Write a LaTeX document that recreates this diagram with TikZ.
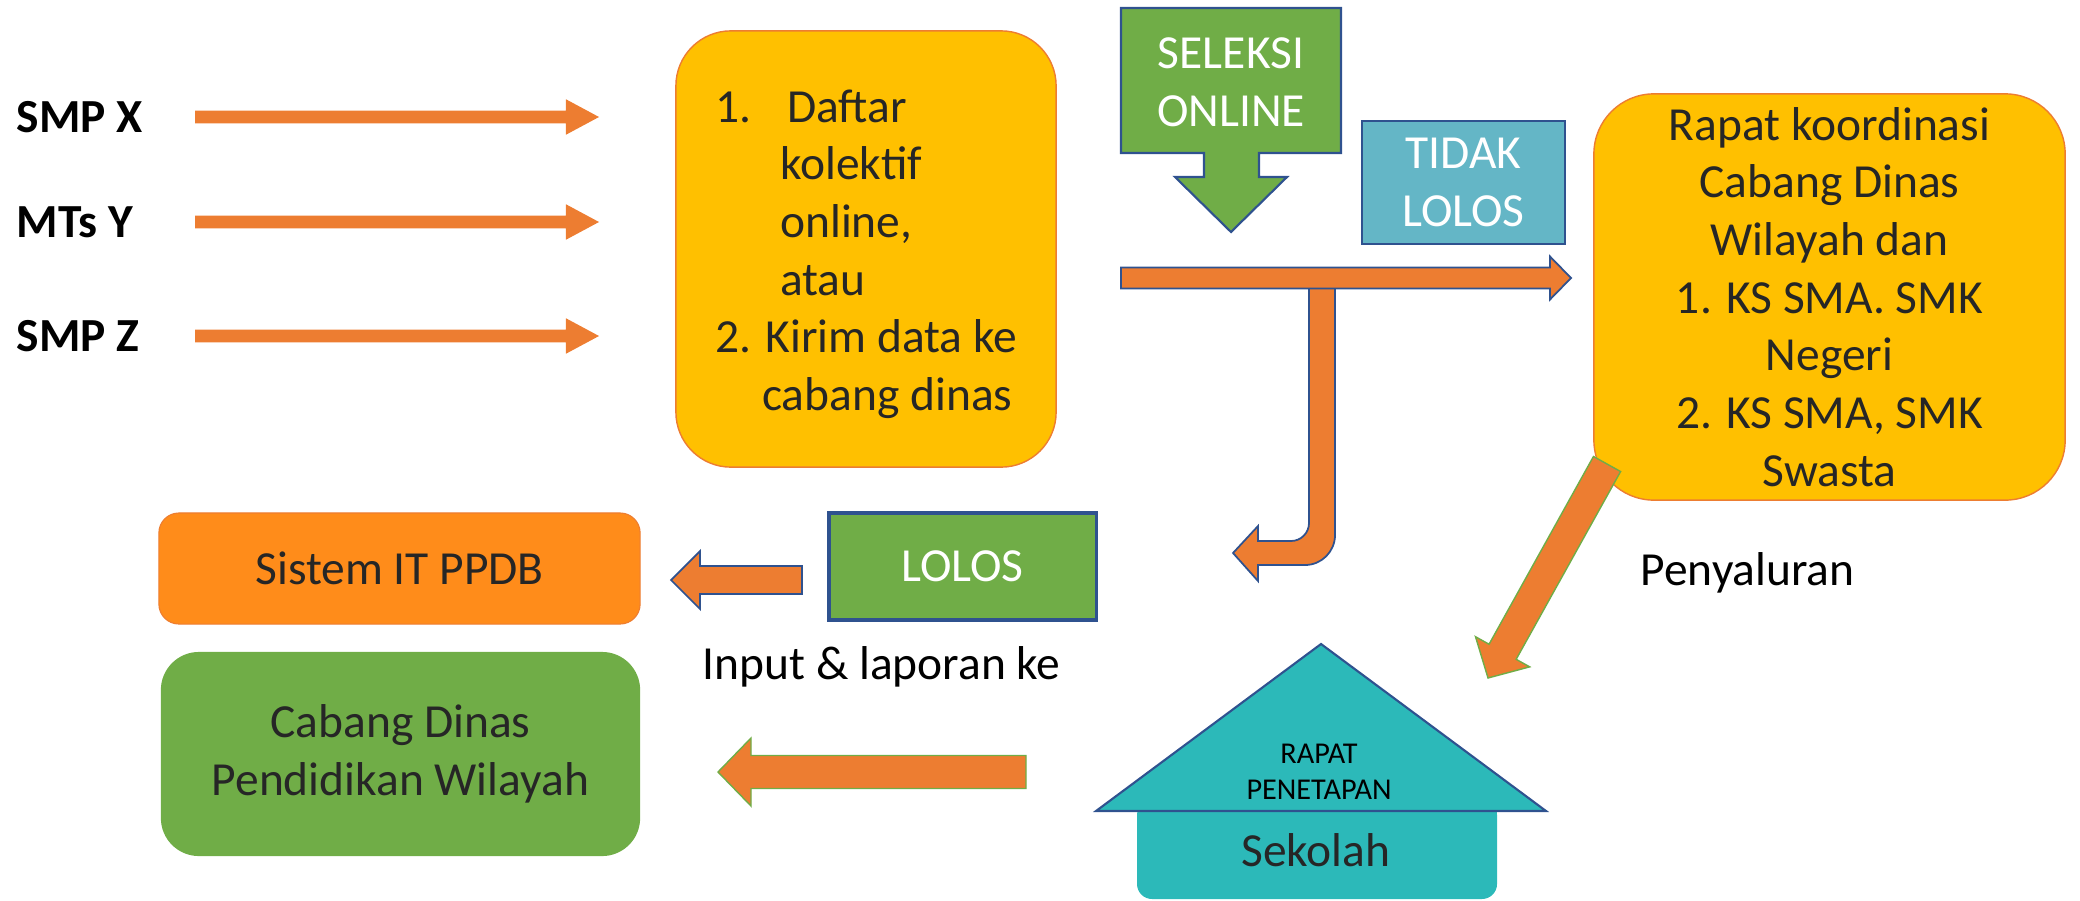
\documentclass[tikz,border=0pt]{standalone}
\usepackage{fontspec}
\setmainfont{Carlito}
\usetikzlibrary{calc}

\definecolor{oranye}{HTML}{ED7D31}
\definecolor{emas}{HTML}{FFC000}
\definecolor{hijau}{HTML}{70AD47}
\definecolor{biru}{HTML}{2F528F}
\definecolor{toska}{HTML}{64B6C6}
\definecolor{tosca}{HTML}{2CB9B9}
\definecolor{jingga}{HTML}{FF8C1A}
\definecolor{abu}{HTML}{262626}

\newcommand{\teks}{\fontsize{13.5}{16.4}\selectfont}
\newcommand{\panahblok}[6]{%
  \coordinate (pb-h) at ($(#3)!#6!(#2)$);
  \draw[#1] ($(#2)!#4!90:(#3)$) -- ($(pb-h)!#4!90:(#3)$) -- ($(pb-h)!#5!90:(#3)$)
    -- (#3) -- ($(pb-h)!#5!-90:(#3)$) -- ($(pb-h)!#4!-90:(#3)$) -- ($(#2)!#4!-90:(#3)$) -- cycle;}

\begin{document}
\begin{tikzpicture}[x=0.01cm,y=-0.01cm,
    kotak/.style={align=center,inner sep=0pt,font=\teks,text=abu},
    tulisan/.style={anchor=west,inner sep=0pt,font=\teks},
    panah/.style={fill=oranye,draw=biru,line width=0.5pt},
    panahpolos/.style={fill=oranye,draw=none},
    panahhijau/.style={fill=oranye,draw=hijau,line width=0.4pt}]
\useasboundingbox (0,0) rectangle (2080,900);

\node[tulisan,font=\teks\bfseries] (smpx) at (16,117) {SMP X};
\node[tulisan,font=\teks\bfseries] (mtsy) at (16,222) {MTs Y};
\node[tulisan,font=\teks\bfseries] (smpz) at (16,336) {SMP Z};
\coordinate (smpx-a) at (195,117);
\coordinate (smpx-b) at (599,117);
\coordinate (mtsy-a) at (195,222);
\coordinate (mtsy-b) at (599,222);
\coordinate (smpz-a) at (195,336);
\coordinate (smpz-b) at (599,336);
\panahblok{panahpolos}{smpx-a}{smpx-b}{0.063cm}{0.177cm}{0.33cm}
\panahblok{panahpolos}{mtsy-a}{mtsy-b}{0.063cm}{0.177cm}{0.33cm}
\panahblok{panahpolos}{smpz-a}{smpz-b}{0.063cm}{0.177cm}{0.33cm}

\node[kotak,fill=emas,draw=oranye,line width=0.4pt,rounded corners=0.55cm,
  minimum width=3.8cm,minimum height=4.36cm] (daftar) at (866,249) {};
\node[kotak,align=left] (daftar-teks) at (866,254)
  {1.\hspace*{10.2pt}Daftar\\ \hspace*{18.5pt}kolektif\\ \hspace*{18.5pt}online,\\
   \hspace*{18.5pt}atau\\ 2. Kirim data ke\\ \hspace*{13.4pt}cabang dinas};

\draw[fill=hijau,draw=biru,line width=0.6pt] (1121,8) -- (1341,8) -- (1341,153) -- (1259,153)
  -- (1259,177) -- (1287,177) -- (1231,232) -- (1175,177) -- (1204,177) -- (1204,153)
  -- (1121,153) -- cycle;
\node[kotak,text=white] (seleksi) at (1231,82) {SELEKSI\\ONLINE};

\node[kotak,text=white,fill=toska,draw=biru,line width=0.6pt,minimum width=2.03cm,
  minimum height=1.23cm] (tidak) at (1463.5,182.5) {TIDAK\\LOLOS};

\coordinate (belok) at (1309,285);
\draw[panah] (belok) -- ++(26,0) -- ++(0,250) arc[start angle=0,end angle=90,radius=30]
  -- ++(-47,0) -- ++(0,16) -- ++(-25,-28) -- ++(25,-27) -- ++(0,15) -- ++(33,0)
  arc[start angle=90,end angle=0,radius=18] -- cycle;
\coordinate (seleksi-a) at (1121,278);
\coordinate (seleksi-b) at (1571,278);
\panahblok{panah}{seleksi-a}{seleksi-b}{0.105cm}{0.215cm}{0.21cm}

\node[kotak,fill=emas,draw=oranye,line width=0.4pt,rounded corners=0.6cm,
  minimum width=4.71cm,minimum height=4.06cm] (rapat) at (1829.5,297)
  {Rapat koordinasi\\Cabang Dinas\\Wilayah dan\\1. KS SMA. SMK\\Negeri\\2. KS SMA, SMK\\Swasta};
\coordinate (rapat-a) at (1607,464);
\coordinate (rapat-b) at (1488,678);
\panahblok{panahhijau}{rapat-a}{rapat-b}{0.155cm}{0.31cm}{0.30cm}
\node[tulisan] (salur) at (1640,573) {Penyaluran};

\node[kotak,fill=jingga,draw=oranye,line width=0.3pt,rounded corners=0.2cm,
  minimum width=4.81cm,minimum height=1.11cm] (sistem) at (399.5,568.5) {Sistem IT PPDB};
\node[kotak,text=white,fill=hijau,draw=biru,line width=0.9pt,minimum width=2.67cm,
  minimum height=1.07cm] (lolos) at (962.5,566.5) {LOLOS};
\coordinate (lolos-a) at (802,580);
\coordinate (lolos-b) at (671,580);
\panahblok{panah}{lolos-a}{lolos-b}{0.14cm}{0.29cm}{0.29cm}
\node[tulisan] (input) at (702,667) {Input \& laporan ke};

\node[kotak,fill=hijau,rounded corners=0.38cm,minimum width=4.79cm,
  minimum height=2.04cm] (cabang) at (400.5,754) {Cabang Dinas\\Pendidikan Wilayah};
\coordinate (sekolah-a) at (1026,772);
\coordinate (sekolah-b) at (718,772);
\panahblok{panahhijau}{sekolah-a}{sekolah-b}{0.165cm}{0.34cm}{0.33cm}

\fill[tosca,rounded corners=0.15cm] (1137,800) rectangle (1497,899);
\draw[fill=tosca,draw=biru,line width=0.6pt] (1096,811) -- (1321,644) -- (1546,811) -- cycle;
\node[kotak,text=black,font=\fontsize{8.6}{10.3}\selectfont] (penetapan) at (1319,772)
  {RAPAT\\PENETAPAN};
\node[kotak] (sekolah) at (1316,850) {Sekolah};
\end{tikzpicture}
\end{document}
